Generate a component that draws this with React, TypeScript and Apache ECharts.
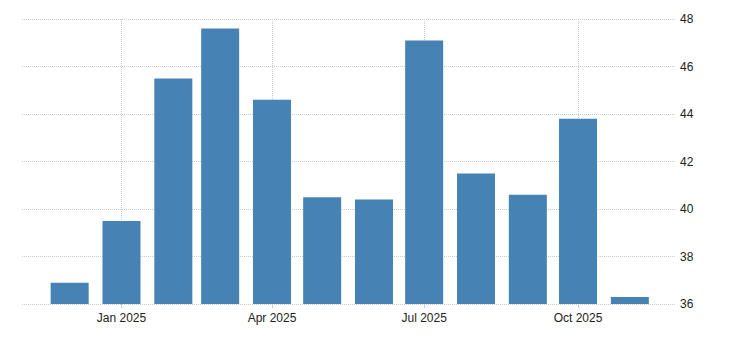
import React, { useEffect, useRef } from "react";
import * as echarts from "echarts";

const months: string[] = [
  "2024-12-01", "2025-01-01", "2025-02-01", "2025-03-01", "2025-04-01", "2025-05-01",
  "2025-06-01", "2025-07-01", "2025-08-01", "2025-09-01", "2025-10-01", "2025-11-01",
];
const values: number[] = [36.9, 39.5, 45.5, 47.6, 44.6, 40.5, 40.4, 47.1, 41.5, 40.6, 43.8, 36.3];
const xTickDates: string[] = ["2025-01-01", "2025-04-01", "2025-07-01", "2025-10-01"];
const monthNames: string[] = ["Jan", "Feb", "Mar", "Apr", "May", "Jun", "Jul", "Aug", "Sep", "Oct", "Nov", "Dec"];
const yMin = 36;
const yMax = 48;
const yStep = 2;

function toTs(s: string): number {
  const [y, m, d] = s.split("-").map(Number);
  return new Date(y, m - 1, d).getTime();
}

export default function App() {
  const ref = useRef<HTMLDivElement>(null);
  useEffect(() => {
    if (!ref.current) return;
    const chart = echarts.init(ref.current, undefined, { renderer: "svg" });
    const tickVals = xTickDates.map(toTs);
    chart.setOption({
      animation: false,
      grid: { left: 22, right: 55, top: 19, bottom: 36 },
      xAxis: {
        type: "value",
        scale: true,
        min: new Date(2024, 10, 2, 12).getTime(),
        max: new Date(2025, 10, 28).getTime(),
        axisLine: { show: false },
        axisTick: { show: true, length: 4, customValues: tickVals, lineStyle: { color: "#cccccc" } },
        axisLabel: {
          customValues: tickVals,
          color: "#222",
          fontSize: 12,
          fontFamily: "Liberation Sans, Arial, sans-serif",
          margin: 8,
          formatter: (v: number) => {
            const d = new Date(v);
            return `${monthNames[d.getMonth()]} ${d.getFullYear()}`;
          },
        },
        splitLine: { show: true, lineStyle: { color: "#cccccc", type: "dotted", width: 1 } },
      },
      yAxis: {
        type: "value",
        position: "right",
        min: yMin,
        max: yMax,
        interval: yStep,
        axisLine: { show: false },
        axisTick: { show: false },
        axisLabel: {
          color: "#222",
          fontSize: 12,
          fontFamily: "Liberation Sans, Arial, sans-serif",
          margin: 5,
        },
        splitLine: { show: true, lineStyle: { color: "#cccccc", type: "dotted", width: 1 } },
      },
      series: [
        {
          type: "bar",
          barWidth: 38,
          itemStyle: { color: "#4682b4" },
          data: months.map((m, i) => [toTs(m), values[i]]),
        },
      ],
    });
    return () => chart.dispose();
  }, []);
  return (
    <div
      ref={ref}
      style={{ position: "fixed", left: 0, top: 0, width: 730, height: 340, background: "#fff" }}
    />
  );
}
